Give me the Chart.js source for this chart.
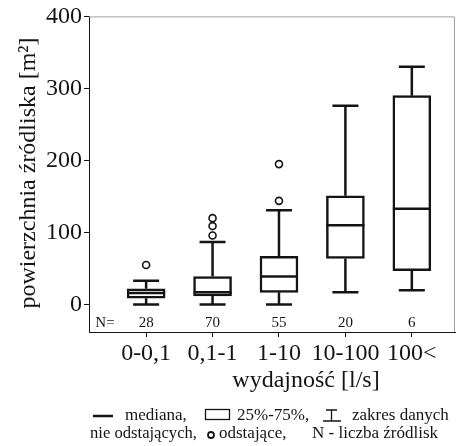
<!DOCTYPE html>
<html>
<head>
<meta charset="utf-8">
<script src="https://cdn.jsdelivr.net/npm/chart.js@4"></script>
<style>
  html, body { margin: 0; padding: 0; background: #fff; }
  #wrap { width: 462px; height: 446px; }
</style>
</head>
<body>
<div id="wrap"><canvas id="myChart" width="462" height="446"></canvas></div>
<script>
// dane
const categories = ['0-0,1', '0,1-1', '1-10', '10-100', '100<'];
const counts = [28, 70, 55, 20, 6];
const whiskerLow = [0, 0, 0, 17, 20];
const q1 = [9, 12, 17, 64, 47];
const median = [16, 17, 39, 110, 133];
const q3 = [22, 39, 67, 151, 290];
const whiskerHigh = [33, 87, 131, 276, 330];
const outliers = [[55], [96, 109, 120], [144, 195], [], []];
const yTicks = [0, 100, 200, 300, 400];

const ink = '#141414';
const serif = "'Liberation Serif', 'DejaVu Serif', serif";

const outlierPoints = [];
outliers.forEach((list, i) => list.forEach(v => outlierPoints.push({ x: i, y: v })));

const boxPlugin = {
  id: 'boxExtras',
  beforeDatasetsDraw(chart) {
    const { ctx, scales: { x, y } } = chart;
    ctx.save();
    ctx.strokeStyle = ink;
    ctx.lineWidth = 2.5;
    categories.forEach((c, i) => {
      const px = x.getPixelForValue(i);
      ctx.beginPath();
      ctx.moveTo(px, y.getPixelForValue(whiskerLow[i]));
      ctx.lineTo(px, y.getPixelForValue(q1[i]));
      ctx.moveTo(px, y.getPixelForValue(q3[i]));
      ctx.lineTo(px, y.getPixelForValue(whiskerHigh[i]));
      // wąsy
      ctx.moveTo(px - 13, y.getPixelForValue(whiskerLow[i]));
      ctx.lineTo(px + 13, y.getPixelForValue(whiskerLow[i]));
      ctx.moveTo(px - 13, y.getPixelForValue(whiskerHigh[i]));
      ctx.lineTo(px + 13, y.getPixelForValue(whiskerHigh[i]));
      ctx.stroke();
    });
    ctx.restore();
  },
  afterDatasetsDraw(chart) {
    const { ctx, chartArea, scales: { x, y } } = chart;
    ctx.save();
    ctx.strokeStyle = ink;
    ctx.lineWidth = 2.5;
    categories.forEach((c, i) => {
      const px = x.getPixelForValue(i);
      const py = y.getPixelForValue(median[i]);
      ctx.beginPath();
      ctx.moveTo(px - 19, py);
      ctx.lineTo(px + 19, py);
      ctx.stroke();
    });
    // liczebnosci N
    ctx.fillStyle = ink;
    ctx.font = '15px ' + serif;
    ctx.textAlign = 'center';
    ctx.textBaseline = 'middle';
    const ny = y.getPixelForValue(-26);
    ctx.fillText('N=', x.getPixelForValue(-0.62), ny);
    counts.forEach((n, i) => ctx.fillText(String(n), x.getPixelForValue(i), ny));
    // ramka gora/prawo
    ctx.strokeStyle = '#a0a0a0';
    ctx.lineWidth = 1;
    ctx.beginPath();
    ctx.moveTo(chartArea.left, chartArea.top + 0.5);
    ctx.lineTo(chartArea.right - 0.5, chartArea.top + 0.5);
    ctx.lineTo(chartArea.right - 0.5, chartArea.bottom);
    ctx.stroke();
    ctx.restore();
  },
  afterDraw(chart) {
    const { ctx } = chart;
    ctx.save();
    ctx.fillStyle = ink;
    ctx.strokeStyle = ink;
    // tytul osi Y
    ctx.font = '24px ' + serif;
    ctx.textAlign = 'center';
    ctx.textBaseline = 'middle';
    ctx.translate(29, 173);
    ctx.rotate(-Math.PI / 2);
    ctx.fillText('powierzchnia źródliska [m²]', 0, 0);
    ctx.setTransform(1, 0, 0, 1, 0, 0);
    // tytul osi X
    ctx.fillText('wydajność [l/s]', 306, 381);
    // legenda
    ctx.font = '17px ' + serif;
    ctx.textAlign = 'left';
    const l1 = 416, l2 = 434;
    ctx.lineWidth = 2.5;
    ctx.beginPath();
    ctx.moveTo(93, l1); ctx.lineTo(113, l1);
    ctx.stroke();
    ctx.fillText('mediana,', 125, l1, 63);
    ctx.lineWidth = 1.3;
    ctx.strokeRect(205.5, l1 - 6.5, 24, 10);
    ctx.fillText('25%-75%,', 237, l1, 75);
    ctx.beginPath();
    ctx.moveTo(326, l1 - 6); ctx.lineTo(337, l1 - 6);
    ctx.moveTo(331.5, l1 - 6); ctx.lineTo(331.5, l1 + 5);
    ctx.moveTo(323, l1 + 5); ctx.lineTo(341, l1 + 5);
    ctx.stroke();
    ctx.fillText('zakres danych', 352, l1, 100);
    ctx.fillText('nie odstających,', 90, l2, 107);
    ctx.lineWidth = 1.8;
    ctx.beginPath();
    ctx.arc(211, l2 + 1, 3, 0, Math.PI * 2);
    ctx.stroke();
    ctx.fillText('odstające,', 219, l2, 74);
    ctx.fillText('N - liczba źródlisk', 312, l2, 130);
    ctx.restore();
  }
};

new Chart(document.getElementById('myChart'), {
  data: {
    datasets: [{
      type: 'bar',
      data: categories.map((c, i) => ({ x: i, y: [q1[i], q3[i]] })),
      backgroundColor: '#ffffff',
      borderColor: ink,
      borderWidth: 2.5,
      borderSkipped: false,
      barThickness: 38
    }, {
      type: 'scatter',
      data: outlierPoints,
      pointStyle: 'circle',
      pointRadius: 3.5,
      pointBorderWidth: 1.6,
      pointBackgroundColor: '#ffffff',
      pointBorderColor: ink
    }]
  },
  options: {
    responsive: false,
    animation: false,
    layout: { padding: { left: 0, right: 7, top: 15, bottom: 74 } },
    plugins: { legend: { display: false }, tooltip: { enabled: false } },
    scales: {
      x: {
        type: 'linear',
        offset: false,
        min: -0.86,
        max: 4.65,
        afterFit: (scale) => { scale.height = 40; },
        afterBuildTicks: (scale) => { scale.ticks = categories.map((c, i) => ({ value: i })); },
        ticks: {
          callback: (v) => categories[v],
          color: ink,
          font: { family: serif, size: 24 },
          padding: 2,
          maxRotation: 0,
          autoSkip: false
        },
        grid: { drawOnChartArea: false, tickLength: 5, color: ink, offset: false },
        border: { color: ink, width: 1 }
      },
      y: {
        min: -38,
        max: 400,
        afterFit: (scale) => { scale.width = 89; },
        afterBuildTicks: (scale) => { scale.ticks = yTicks.map(v => ({ value: v })); },
        ticks: {
          color: ink,
          font: { family: serif, size: 24 },
          padding: 2
        },
        grid: { drawOnChartArea: false, tickLength: 5, color: ink },
        border: { color: ink, width: 1 }
      }
    }
  },
  plugins: [boxPlugin]
});
</script>
</body>
</html>
